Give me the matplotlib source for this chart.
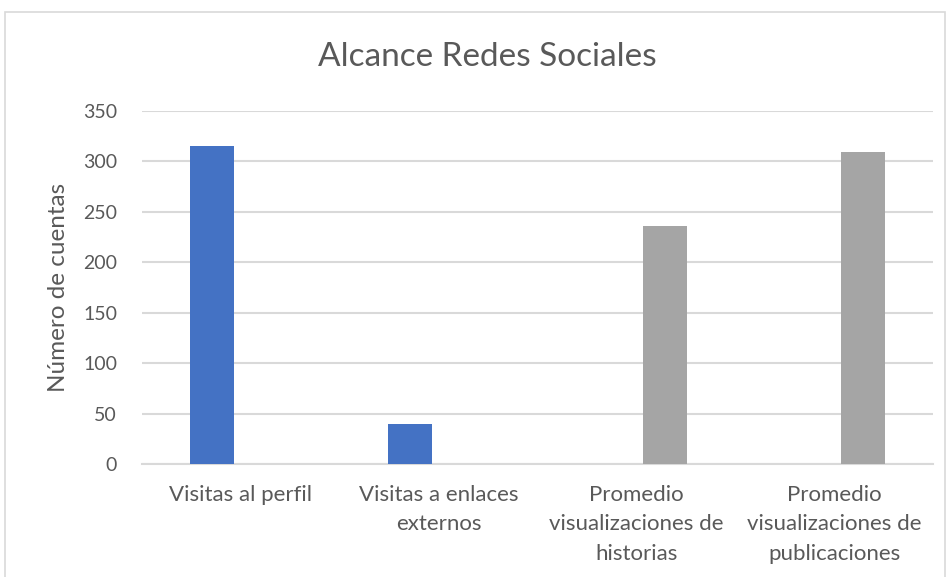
import matplotlib
matplotlib.use("Agg")
import matplotlib.pyplot as plt
from matplotlib.patches import Rectangle

categories = ["Visitas al perfil", "Visitas a enlaces\nexternos",
              "Promedio\nvisualizaciones de\nhistorias",
              "Promedio\nvisualizaciones de\npublicaciones"]
perfil_values = [315, 40, 0, 0]
promedio_values = [0, 0, 236, 309]
y_ticks = [0, 50, 100, 150, 200, 250, 300, 350]

plt.rcParams['font.family'] = ['Lato', 'DejaVu Sans']
text_color = '#595959'
grid_color = '#d9d9d9'

fig = plt.figure(figsize=(9.49, 5.77), dpi=100)
fig.patches.append(Rectangle((5 / 949, -0.1), 940 / 949, 1.1 - 12 / 577,
                             transform=fig.transFigure, fill=False,
                             edgecolor=grid_color, linewidth=1.2))

ax = fig.add_axes([142 / 949, 1 - 464 / 577, (933 - 142) / 949, (464 - 111) / 577])

x = range(len(categories))
width = 0.2225
offset = 0.144
ax.bar([i - offset for i in x], perfil_values, width, color='#4472C4', zorder=3)
ax.bar([i + offset for i in x], promedio_values, width, color='#A5A5A5', zorder=3)

ax.set_xlim(-0.5, len(categories) - 0.5)
ax.set_ylim(0, 350)
ax.set_yticks(y_ticks)
ax.set_xticks(list(x))
ax.set_xticklabels(categories, fontsize=16, color=text_color, linespacing=1.6)
ax.tick_params(axis='y', labelsize=14, colors=text_color, length=0, pad=18)
ax.tick_params(axis='x', length=0, pad=15)
for label in ax.get_yticklabels():
    label.set_color(text_color)

ax.grid(axis='y', color=grid_color, linewidth=1.5, zorder=0)
for side in ['top', 'right', 'left']:
    ax.spines[side].set_visible(False)
ax.spines['bottom'].set_color(grid_color)
ax.spines['bottom'].set_linewidth(1.5)

ax.set_ylabel("Número de cuentas", fontsize=17.5, color=text_color, labelpad=10)
fig.text(487 / 949, 1 - 57 / 577, "Alcance Redes Sociales", fontsize=24,
         color=text_color, ha='center', va='center')

fig.savefig("out.png", dpi=100)
